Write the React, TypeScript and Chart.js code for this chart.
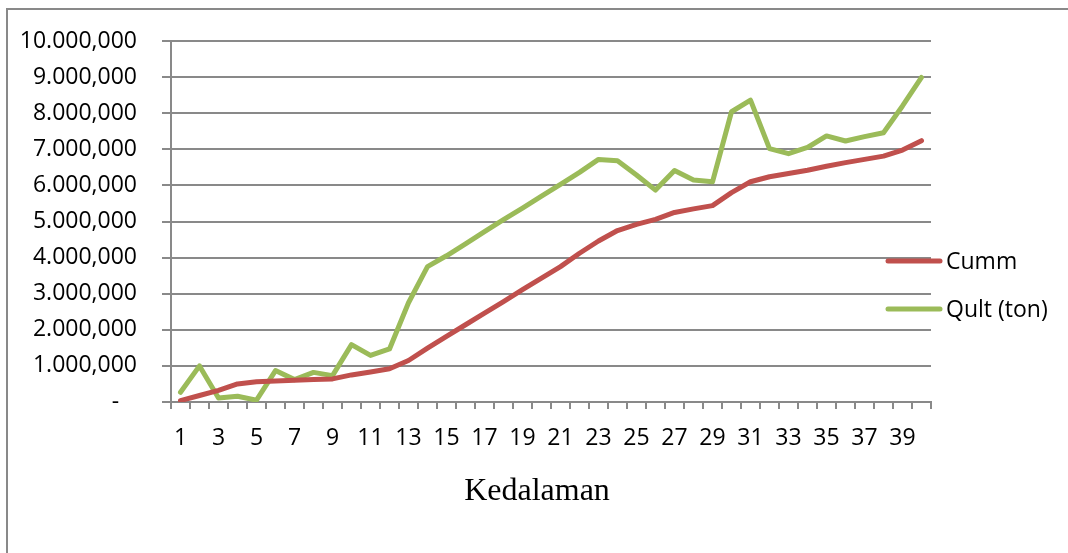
import { useEffect, useRef } from 'react';
import { Chart, registerables } from 'chart.js';

Chart.register(...registerables);

const depthLabels = [
  '1', '2', '3', '4', '5', '6', '7', '8', '9', '10',
  '11', '12', '13', '14', '15', '16', '17', '18', '19', '20',
  '21', '22', '23', '24', '25', '26', '27', '28', '29', '30',
  '31', '32', '33', '34', '35', '36', '37', '38', '39', '40',
];

const cummValues = [
  40000, 180000, 320000, 500000, 560000, 580000, 600000, 620000, 640000, 750000,
  830000, 920000, 1150000, 1490000, 1820000, 2140000, 2460000, 2780000, 3110000, 3430000,
  3750000, 4120000, 4460000, 4750000, 4920000, 5060000, 5250000, 5350000, 5440000, 5800000,
  6100000, 6240000, 6330000, 6420000, 6530000, 6630000, 6720000, 6810000, 6980000, 7240000,
];

const qultValues = [
  270000, 1000000, 110000, 160000, 50000, 870000, 620000, 820000, 730000, 1590000,
  1290000, 1470000, 2750000, 3750000, 4050000, 4380000, 4720000, 5050000, 5370000, 5700000,
  6030000, 6360000, 6720000, 6680000, 6290000, 5870000, 6410000, 6150000, 6100000, 8040000,
  8360000, 7020000, 6880000, 7050000, 7370000, 7230000, 7350000, 7460000, 8200000, 8990000,
];

const seriesNames = ['Cumm', 'Qult (ton)'];
const seriesColors = ['#C0504D', '#9BBB59'];
const yMax = 10000000;
const yStep = 1000000;
const xAxisTitle = 'Kedalaman';

const GRID = '#898989';
const FONT = 'Open Sans';

function formatTick(v: number): string {
  if (v === 0) return '-   ';
  let n = Math.round(v);
  const parts: string[] = [];
  while (n >= 1000) {
    parts.unshift(String(n % 1000).padStart(3, '0'));
    n = Math.floor(n / 1000);
  }
  parts.unshift(String(n));
  let s = parts[0];
  for (let i = 1; i < parts.length; i++) {
    s += (i === 1 ? '.' : ',') + parts[i];
  }
  return s;
}

const overlayPlugin = {
  id: 'excelOverlay',
  afterDraw(chart: any) {
    const { ctx, chartArea } = chart;
    ctx.save();
    // legend
    chart.data.datasets.forEach((ds: any, i: number) => {
      const y = chartArea.top + 220 + i * 48;
      ctx.beginPath();
      ctx.strokeStyle = ds.borderColor;
      ctx.lineWidth = 5;
      ctx.lineCap = 'round';
      ctx.moveTo(chartArea.right - 43, y);
      ctx.lineTo(chartArea.right + 9, y);
      ctx.stroke();
      ctx.fillStyle = '#000';
      ctx.font = `23px "${FONT}"`;
      ctx.textAlign = 'left';
      ctx.textBaseline = 'middle';
      ctx.fillText(ds.label, chartArea.right + 15, y + 1);
    });
    // x axis title
    ctx.fillStyle = '#000';
    ctx.font = '32px "Liberation Serif"';
    ctx.textAlign = 'center';
    ctx.textBaseline = 'alphabetic';
    ctx.fillText(xAxisTitle, (chartArea.left + chartArea.right) / 2 - 14, chartArea.bottom + 98);
    ctx.restore();
  },
};

export default function App() {
  const canvasRef = useRef<HTMLCanvasElement | null>(null);

  useEffect(() => {
    if (!canvasRef.current) return;
    const chart = new Chart(canvasRef.current, {
      type: 'line',
      data: {
        labels: depthLabels,
        datasets: [
          {
            label: seriesNames[0],
            data: cummValues,
            borderColor: seriesColors[0],
            backgroundColor: seriesColors[0],
            borderWidth: 5,
            pointRadius: 0,
            tension: 0,
            fill: false,
            borderCapStyle: 'round',
            borderJoinStyle: 'round',
          },
          {
            label: seriesNames[1],
            data: qultValues,
            borderColor: seriesColors[1],
            backgroundColor: seriesColors[1],
            borderWidth: 5,
            pointRadius: 0,
            tension: 0,
            fill: false,
            borderCapStyle: 'round',
            borderJoinStyle: 'round',
          },
        ],
      },
      options: {
        animation: false,
        responsive: false,
        layout: { padding: { left: 10, right: 137, top: 41, bottom: 0 } },
        plugins: {
          legend: { display: false },
          tooltip: { enabled: false },
        },
        scales: {
          x: {
            type: 'category',
            offset: true,
            grid: {
              offset: true,
              drawOnChartArea: false,
              drawTicks: true,
              tickLength: 7,
              color: GRID,
              lineWidth: 2,
            },
            border: { display: true, color: GRID, width: 2 },
            ticks: {
              autoSkip: false,
              maxRotation: 0,
              minRotation: 0,
              padding: 16,
              color: '#000',
              font: { family: FONT, size: 23 },
              callback: (_v: any, i: number) => (i % 2 === 0 ? depthLabels[i] : ''),
            },
            afterFit: (s: any) => {
              s.height = 151;
            },
          },
          y: {
            min: 0,
            max: yMax,
            ticks: {
              stepSize: yStep,
              padding: 25,
              color: '#000',
              font: { family: FONT, size: 23 },
              callback: (v: any) => formatTick(Number(v)),
            },
            grid: {
              color: GRID,
              lineWidth: 2,
              tickLength: 9,
              drawTicks: true,
            },
            border: { display: true, color: GRID, width: 2 },
            afterFit: (s: any) => {
              s.width = 161;
            },
          },
        },
      },
      plugins: [overlayPlugin],
    } as any);
    return () => chart.destroy();
  }, []);

  return (
    <div style={{ position: 'fixed', left: 0, top: 0, right: 0, bottom: 0, overflow: 'hidden', background: '#fff' }}>
      <div
        style={{
          position: 'absolute',
          left: 6,
          top: 8,
          width: 1200,
          height: 700,
          border: `2px solid ${GRID}`,
        }}
      />
      <canvas
        ref={canvasRef}
        width={1068}
        height={553}
        style={{ position: 'absolute', left: 0, top: 0, width: 1068, height: 553 }}
      />
    </div>
  );
}
